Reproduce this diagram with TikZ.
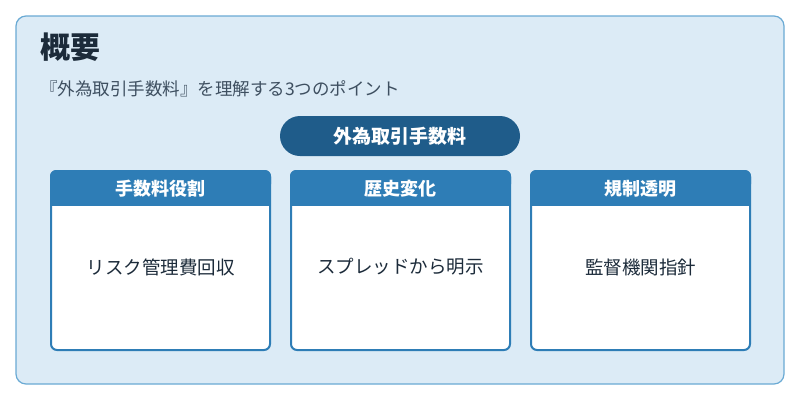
\documentclass[tikz,border=0pt]{standalone}
\usepackage{fontspec}
\newfontfamily\cjk{Noto Sans CJK JP}
\definecolor{bg}{HTML}{DCEBF6}
\definecolor{bd}{HTML}{6AAAD4}
\definecolor{pill}{HTML}{1F5C8A}
\definecolor{hd}{HTML}{2E7DB6}
\definecolor{tx}{HTML}{1C2B3A}
\definecolor{sub}{HTML}{3E4F60}
\tikzset{
 card/.style={draw=hd,line width=2pt,fill=white,rounded corners=6pt},
 head/.style={font=\cjk\bfseries\fontsize{18}{20}\selectfont,text=white},
 body/.style={font=\cjk\fontsize{18.5}{20}\selectfont,text=tx}
}
\begin{document}
\begin{tikzpicture}[x=1pt,y=-1pt]
\useasboundingbox (0,0) rectangle (800,400);
\fill[white] (0,0) rectangle (800,400);
\draw[bd,fill=bg,line width=1.2pt,rounded corners=10pt] (16,16) rectangle (784,384);
\node[anchor=west,font=\cjk\bfseries\fontsize{30}{32}\selectfont,text=tx,inner sep=0pt] (t) at (40,47) {概要};
\node[anchor=west,font=\cjk\fontsize{17.5}{19}\selectfont,text=sub,inner sep=0pt] (s) at (40,89) {『外為取引手数料』を理解する3つのポイント};
\fill[pill,rounded corners=20pt] (280,116) rectangle (520,156);
\node[font=\cjk\bfseries\fontsize{19}{21}\selectfont,text=white] (p) at (400,136) {外為取引手数料};
\foreach \x/\h/\b/\n in {51/手数料役割/リスク管理費回収/a,291/歴史変化/スプレッドから明示/b,531/規制透明/監督機関指針/c}{
 \draw[card] (\x,171) rectangle ++(219,179);
 \fill[hd,rounded corners=6pt] (\x-1,170) rectangle ++(221,20);
 \fill[hd] (\x-1,182) rectangle ++(221,24);
 \node[head] (h\n) at (\x+109.5,188.5) {\h};
 \node[body] (b\n) at (\x+109.5,267) {\b};
}
\end{tikzpicture}
\end{document}
